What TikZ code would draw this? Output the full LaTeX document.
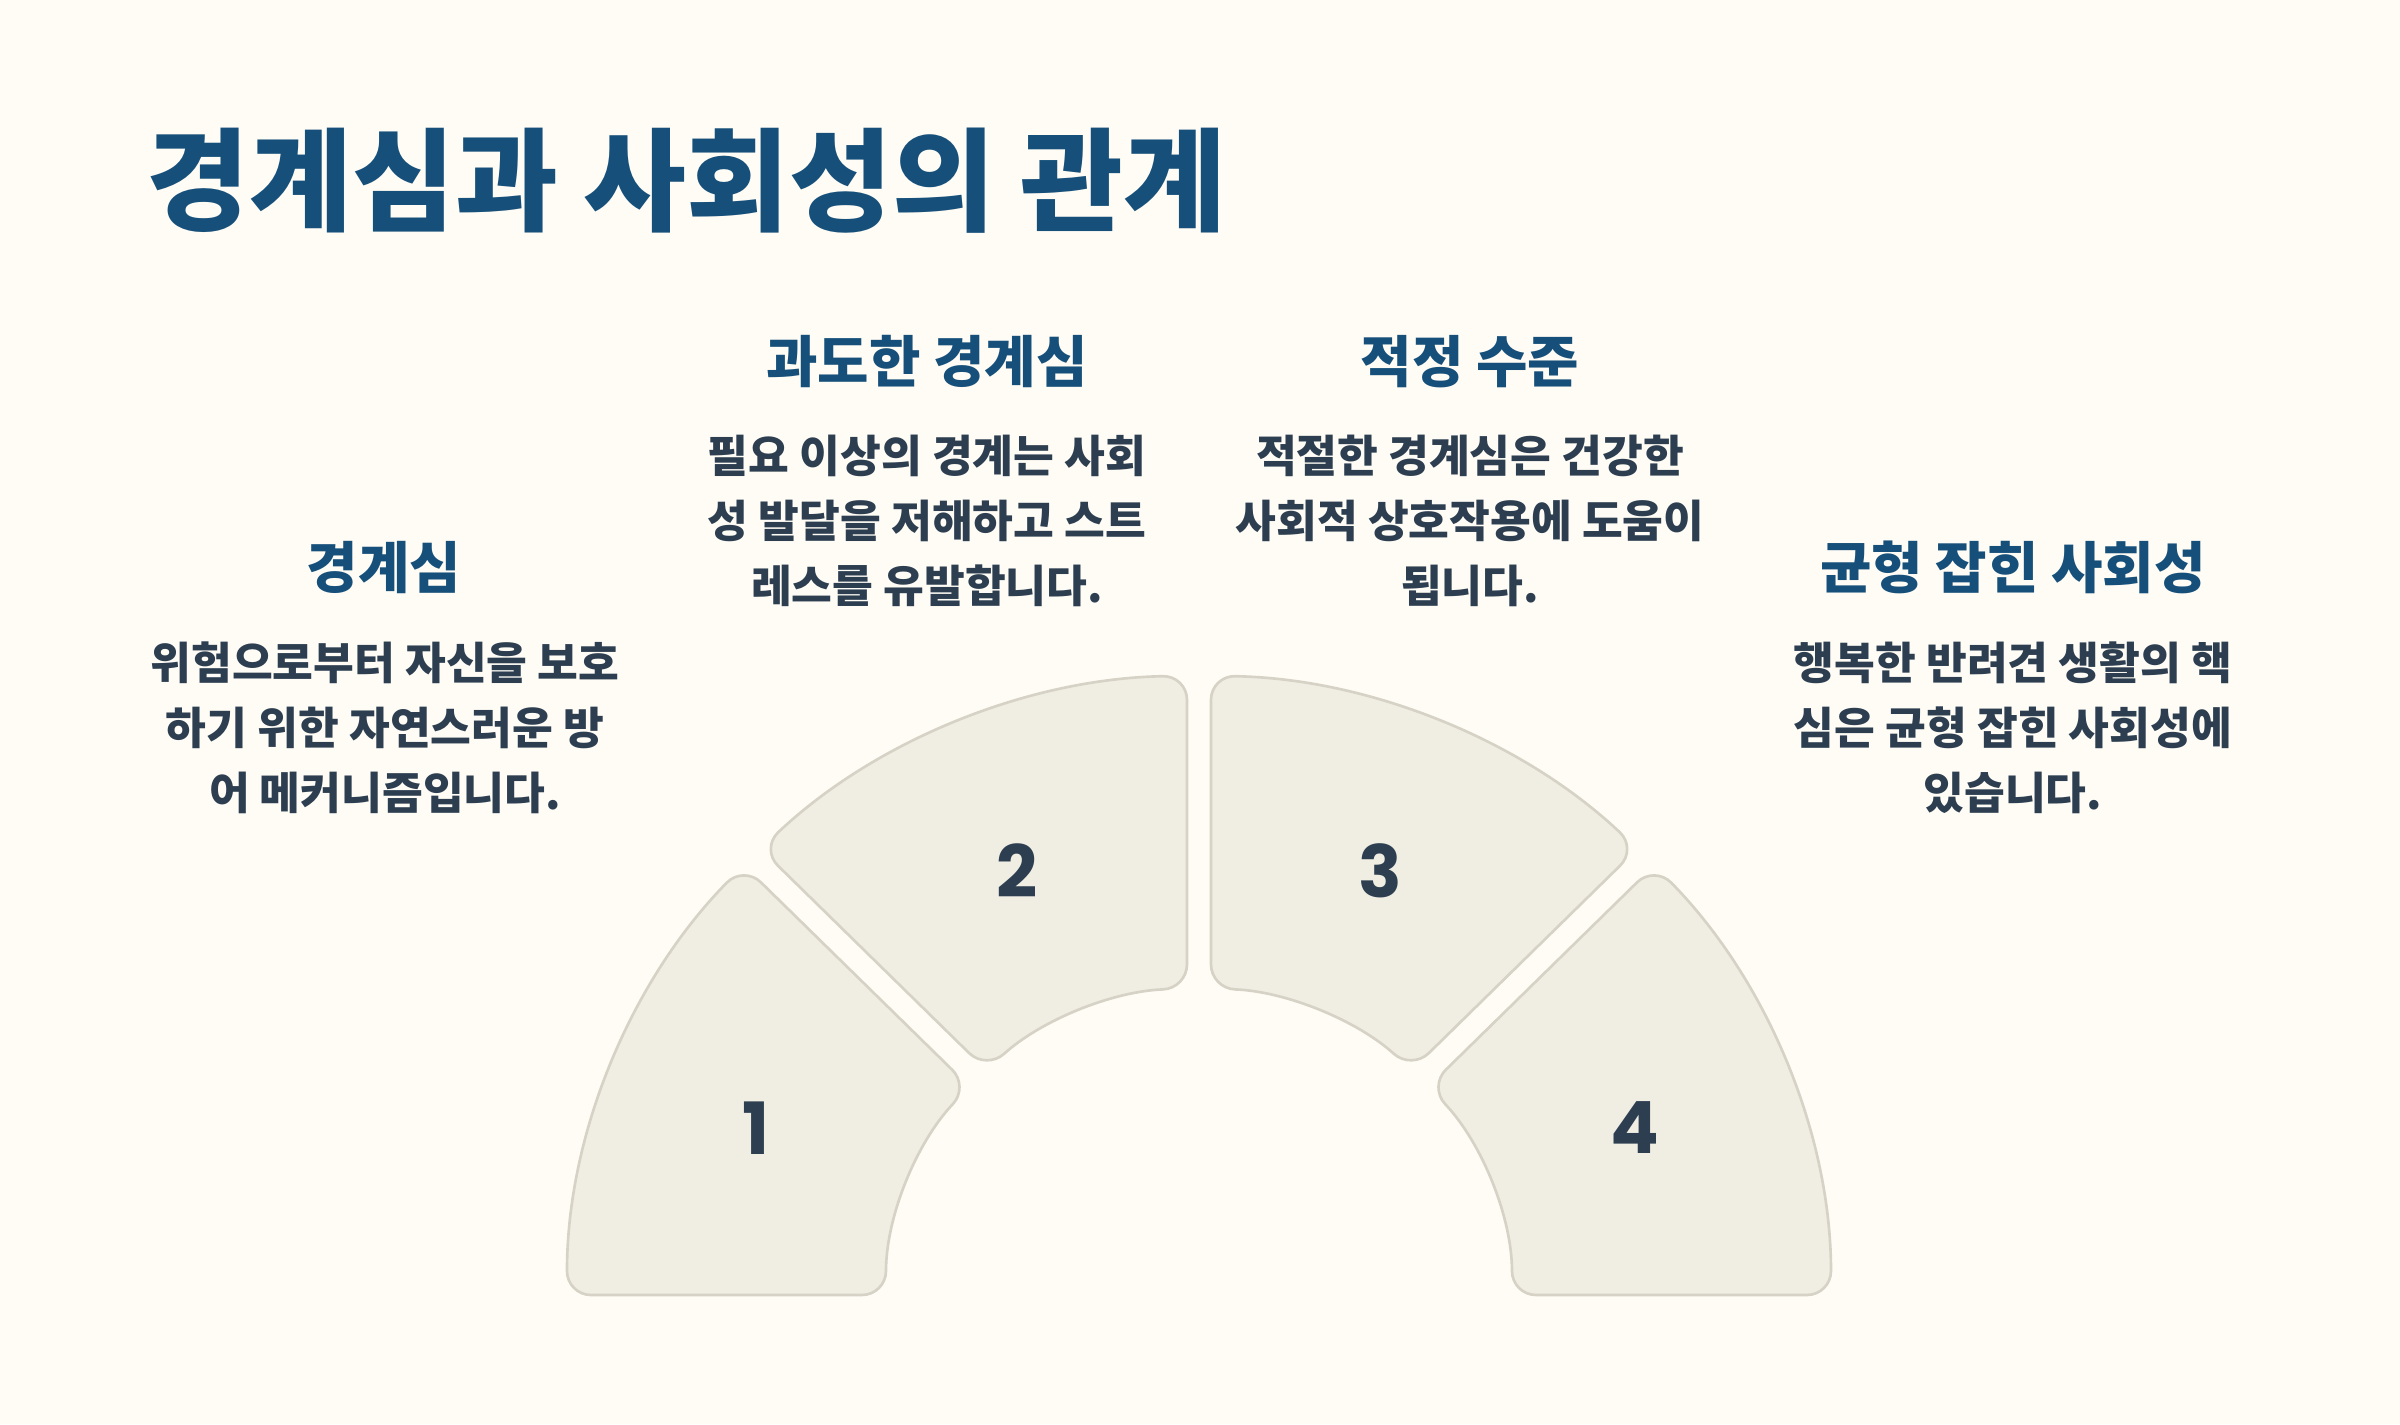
\documentclass[tikz,border=0pt]{standalone}
\usepackage{fontspec}
\setmainfont{Noto Sans CJK KR}
\newfontfamily\numfont{Poppins}
\usetikzlibrary{positioning}
\definecolor{bgcream}{HTML}{FFFCF5}
\definecolor{titleblue}{HTML}{16507A}
\definecolor{textslate}{HTML}{2C3E50}
\definecolor{segfill}{HTML}{F0EDE3}
\definecolor{segline}{HTML}{D6D2C6}

\begin{document}
\begin{tikzpicture}[x=0.01cm,y=0.01cm,
    seg/.style={draw=segline,fill=segfill,line width=0.75pt,rounded corners=0.24cm},
    head/.style={font=\bfseries\fontsize{15.9}{18}\selectfont,text=titleblue,inner sep=0pt,anchor=base},
    desc/.style={font=\bfseries\fontsize{12.6}{18.6}\selectfont,text=textslate,align=center,inner sep=0pt,anchor=base},
    num/.style={font=\numfont\bfseries\fontsize{20.5}{24}\selectfont,text=textslate,inner sep=0pt}]
  \fill[bgcream] (-1199,-129) rectangle (1201,1295);
  \node[font=\bfseries\fontsize{31.8}{36}\selectfont,text=titleblue,anchor=base west,inner sep=0pt]
    (title) at (-1053,1072){경계심과 사회성의 관계};

  % the four ring pieces
  \begin{scope}[yscale=0.98]
    \draw[seg] (136.09:632) arc[start angle=136.09,end angle=180,radius=632]
      -- (180:313) arc[start angle=180,end angle=137.20,radius=313] -- cycle;
    \draw[seg] (91.09:632) arc[start angle=91.09,end angle=133.91,radius=632]
      -- (132.80:313) arc[start angle=132.80,end angle=92.20,radius=313] -- cycle;
    \draw[seg] (46.09:632) arc[start angle=46.09,end angle=88.91,radius=632]
      -- (87.80:313) arc[start angle=87.80,end angle=47.20,radius=313] -- cycle;
    \draw[seg] (0:632) arc[start angle=0,end angle=43.91,radius=632]
      -- (42.80:313) arc[start angle=42.80,end angle=0,radius=313] -- cycle;
  \end{scope}
  \node[num] (n1) at (-443,167){1};
  \node[num] (n2) at (-182,424){2};
  \node[num] (n3) at (181,424){3};
  \node[num] (n4) at (436,167){4};

  % labels (base = last line)
  \node[head] (h1) at (-815,706){경계심};
  \node[desc] (d1) at (-814,485){위험으로부터 자신을 보호\\하기 위한 자연스러운 방\\어 메커니즘입니다.};
  \node[head] (h2) at (-272,912){과도한 경계심};
  \node[desc] (d2) at (-272,692){필요 이상의 경계는 사회\\성 발달을 저해하고 스트\\레스를 유발합니다.};
  \node[head] (h3) at (271,912){적정 수준};
  \node[desc] (d3) at (271,692){적절한 경계심은 건강한\\사회적 상호작용에 도움이\\됩니다.};
  \node[head] (h4) at (814,706){균형 잡힌 사회성};
  \node[desc] (d4) at (814,485){행복한 반려견 생활의 핵\\심은 균형 잡힌 사회성에\\있습니다.};
\end{tikzpicture}
\end{document}
